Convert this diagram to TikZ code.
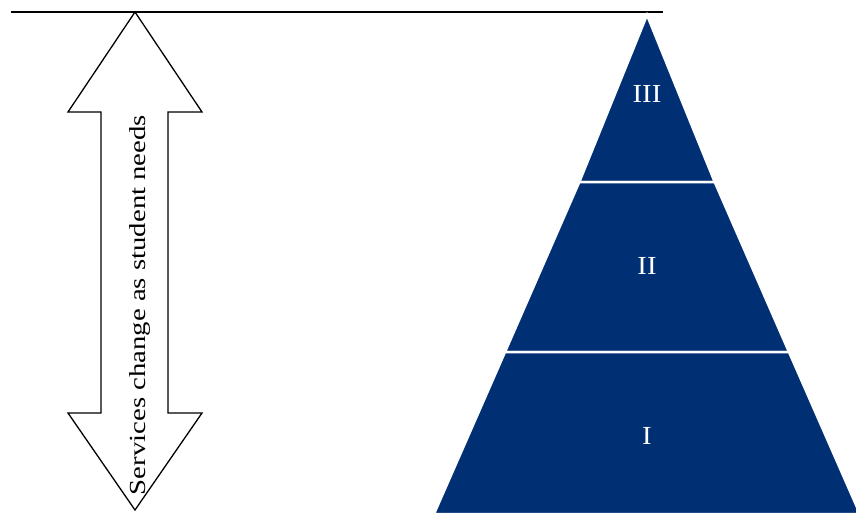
\documentclass[tikz,border=0pt]{standalone}
\usepackage{fontspec}
\setmainfont{Liberation Serif}
\newfontfamily\widefont[FakeStretch=1.25]{Liberation Serif}
\newfontfamily\labelfont[FakeStretch=1.1]{Liberation Serif}
\definecolor{navy}{RGB}{0,48,115}
\begin{document}
\begin{tikzpicture}[x=1pt,y=-1pt,
  outline/.style={draw=black,line width=1.3pt,line join=miter},
  tier/.style={fill=navy,draw=white,line width=2.5pt,line join=miter},
  tierlabel/.style={text=white,font=\labelfont\fontsize{26}{30}\selectfont},
  sidetext/.style={rotate=90,font=\widefont\fontsize{23}{27}\selectfont,inner sep=0pt}]
\useasboundingbox (0,0) rectangle (856,512);
% top reference line
\coordinate (L0) at (11,12);
\coordinate (L1) at (663,12);
\draw[line width=1.3pt] (L0) -- (L1);
% double arrow
\draw[outline,fill=white] (135,12) -- (202,112) -- (168,112) -- (168,413) -- (202,413)
  -- (135,510) -- (68,413) -- (101,413) -- (101,112) -- (68,112) -- cycle;
\node[sidetext] (txt) at (140,305) {Services change as student needs};
% pyramid tiers
\coordinate (apex) at (647,15);
\draw[tier] (apex) -- (714.7,182) -- (579.3,182) -- cycle;
\draw[tier] (579.3,182) -- (714.7,182) -- (789,352) -- (505,352) -- cycle;
\draw[tier] (505,352) -- (789,352) -- (860,514) -- (434,514) -- cycle;
\node[tierlabel] (t3) at (647,94) {III};
\node[tierlabel] (t2) at (647,266) {II};
\node[tierlabel] (t1) at (647,436) {I};
\end{tikzpicture}
\end{document}
